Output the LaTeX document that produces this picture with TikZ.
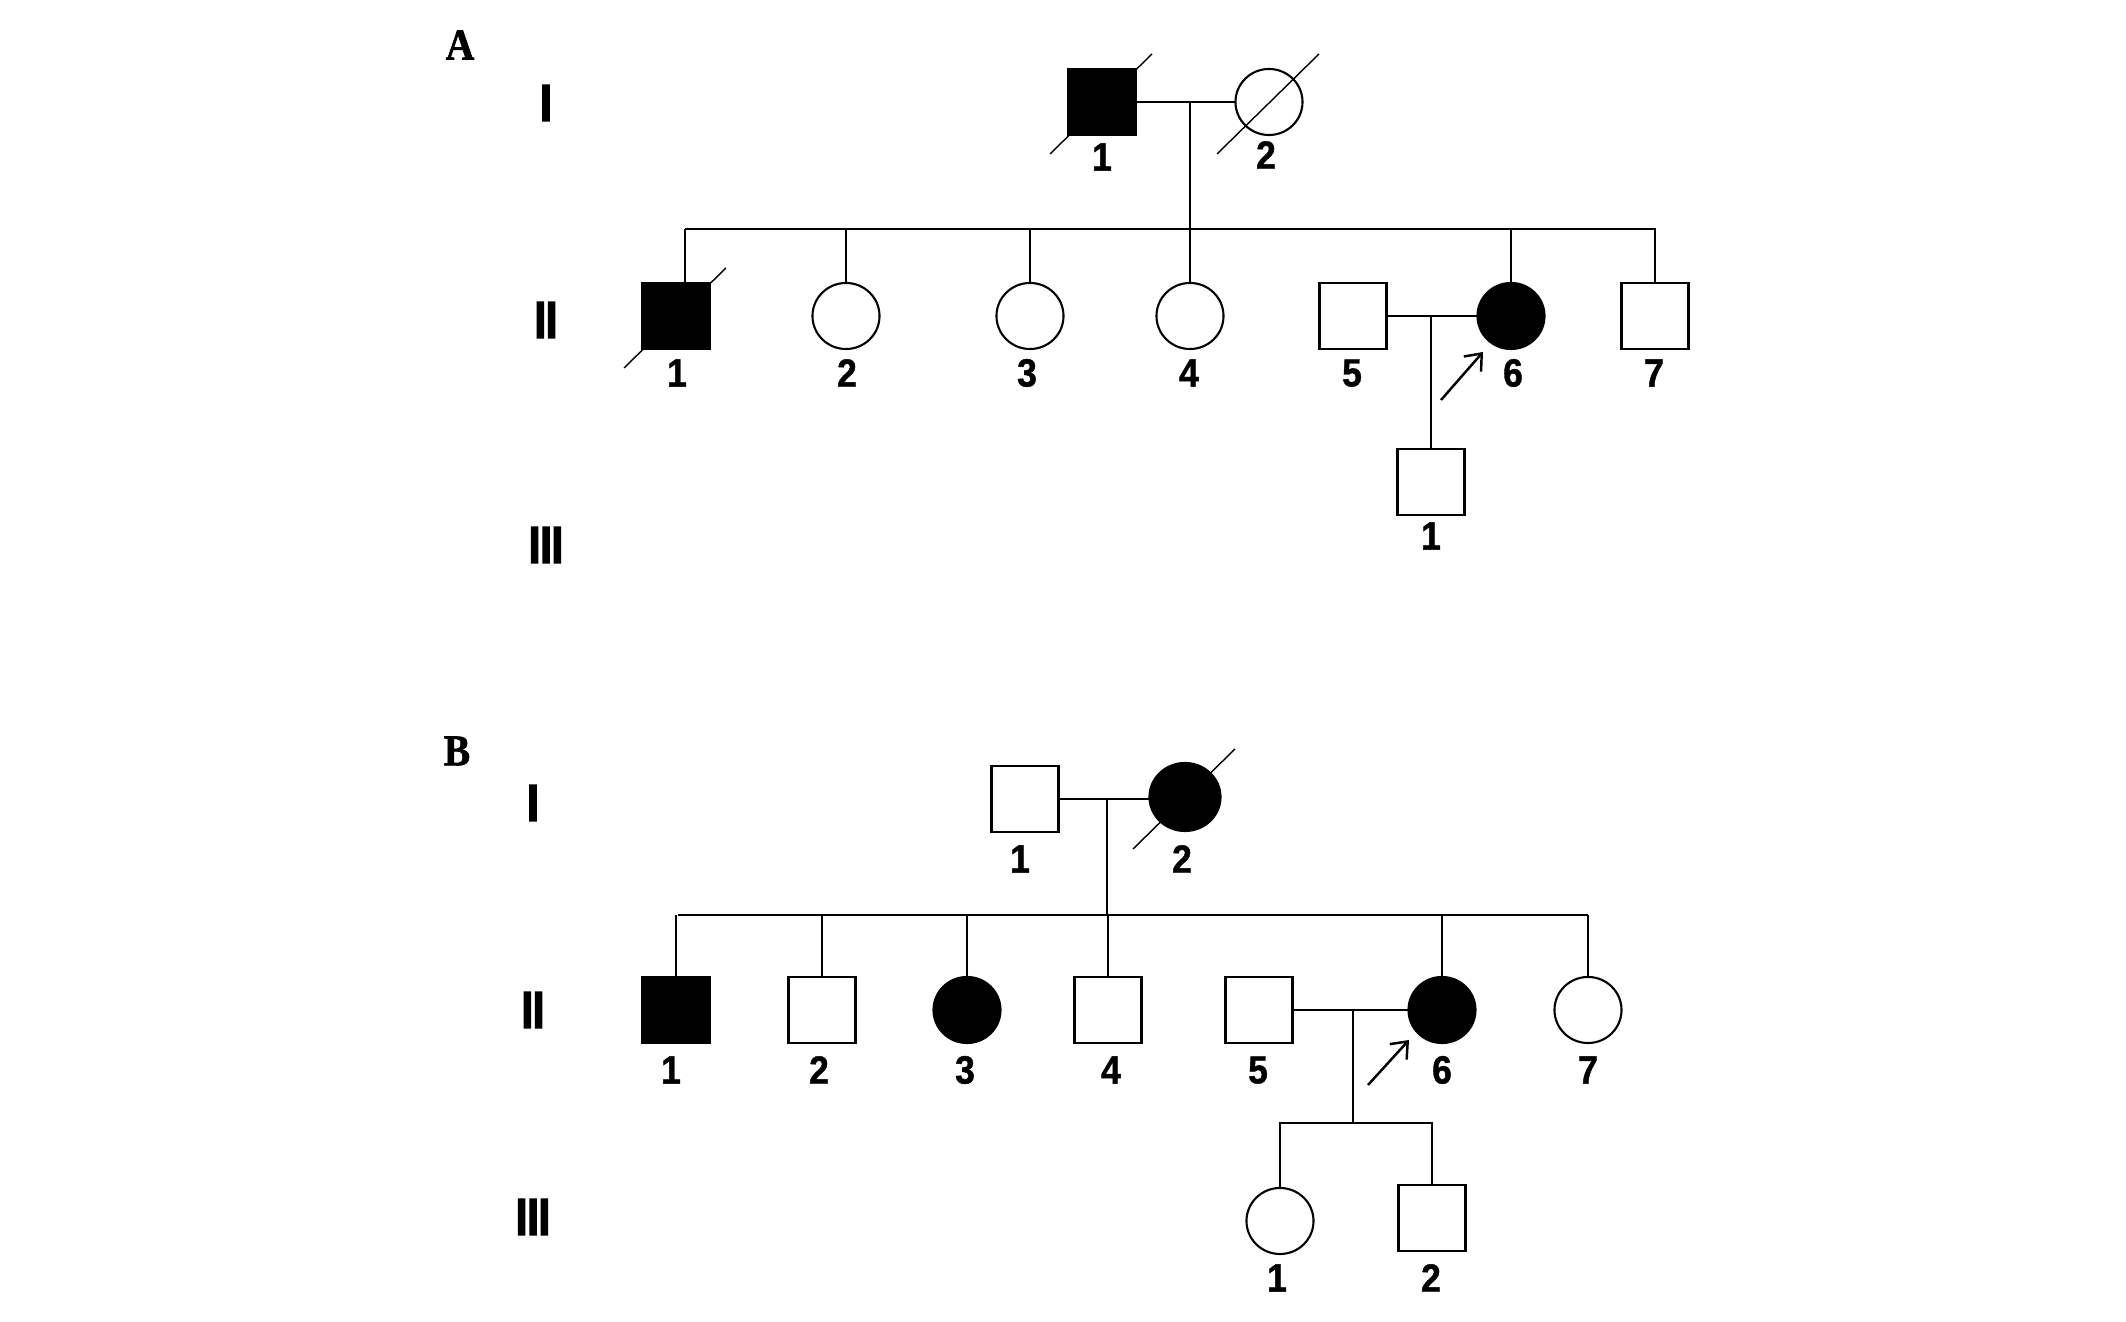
\documentclass[tikz,border=0pt]{standalone}
\usepackage{fontspec}
\setmainfont{Liberation Sans}
\newfontfamily\panelfont[FakeBold=1.5]{Liberation Serif Bold}
\newfontfamily\genfont[FakeBold=4]{Liberation Sans Bold}
\newfontfamily\numfont[FakeBold=1.2]{Liberation Sans Bold}
\usepackage{graphicx}
\usetikzlibrary{arrows.meta,shapes.geometric,calc}
\tikzset{
  ind/.style={draw, line width=0.6pt, inner sep=0pt, outer sep=0pt},
  male/.style={ind, rectangle, minimum width=0.67cm, minimum height=0.66cm},
  female/.style={ind, ellipse, minimum width=0.67cm, minimum height=0.66cm},
  aff/.style={fill=black},
  rel/.style={line width=0.55pt},
  slash/.style={line width=0.4pt},
  num/.style={font=\fontsize{11.2}{12}\selectfont\numfont, inner sep=0pt},
  gen/.style={font=\fontsize{14.5}{16}\selectfont\genfont, inner sep=0pt},
  panel/.style={font=\fontsize{12.5}{14}\selectfont\panelfont, inner sep=0pt},
  proband/.style={line width=0.7pt, -{Straight Barb[length=4pt,width=6.5pt]}},
}
\newcommand{\gennum}[1]{\scalebox{0.8}[1]{#1}}
\newcommand{\narrow}[1]{\scalebox{0.9}[1]{#1}}
\newcommand{\deadslash}[1]{\draw[slash] ([shift={(-52,52)}]#1.center) -- ([shift={(50,-48)}]#1.center);}
\begin{document}
\begin{tikzpicture}[x=0.01cm, y=-0.01cm]
\useasboundingbox (0,0) rectangle (2126,1322);

% ---------------- Panel A ----------------
\node[panel] (pA) at (460,45) {\scalebox{0.9}[1]{A}};
\node[gen] (gA1) at (546,103) {\gennum{I}};
\node[gen] (gA2) at (546,320) {\gennum{II}};
\node[gen] (gA3) at (546,545) {\gennum{III}};

\node[male,aff] (a11) at (1102,102) {};
\node[female] (a12) at (1269,102) {};
\node[num] (la11) at (1102,157) {\narrow{1}};
\node[num] (la12) at (1266,155) {\narrow{2}};
\coordinate (mA1) at (1190,102);
\coordinate (sA1) at (685,229);
\coordinate (sA2) at (1656,229);

\node[male,aff] (a21) at (676,316) {};
\node[female] (a22) at (846,316) {};
\node[female] (a23) at (1030,316) {};
\node[female] (a24) at (1190,316) {};
\node[male] (a25) at (1353,316) {};
\node[female,aff] (a26) at (1511,316) {};
\node[male] (a27) at (1655,316) {};
\node[num] (la21) at (677,373) {\narrow{1}};
\node[num] (la22) at (847,373) {\narrow{2}};
\node[num] (la23) at (1027,373) {\narrow{3}};
\node[num] (la24) at (1189,373) {\narrow{4}};
\node[num] (la25) at (1352,373) {\narrow{5}};
\node[num] (la26) at (1513,373) {\narrow{6}};
\node[num] (la27) at (1654,373) {\narrow{7}};
\coordinate (mA2) at (1431,316);

\node[male] (a31) at (1431,482) {};
\node[num] (la31) at (1431,536) {\narrow{1}};

\draw[rel] (a11.east) -- (a12.west);
\draw[rel] (mA1) -- (mA1 |- sA1);
\draw[rel] (sA1) -- (sA2);
\draw[rel] ([xshift=0.09cm]a21.north) -- ([xshift=0.09cm]a21.north |- sA1);
\draw[rel] (a22.north) -- (a22.north |- sA1);
\draw[rel] (a23.north) -- (a23.north |- sA1);
\draw[rel] (a24.north) -- (a24.north |- sA1);
\draw[rel] (a26.north) -- (a26.north |- sA1);
\draw[rel] (a27.north) -- (a27.north |- sA1);
\draw[rel] (a25.east) -- (a26.west);
\draw[rel] (mA2) -- (mA2 |- a31.north);

\deadslash{a11}
\deadslash{a12}
\deadslash{a21}

\coordinate (arA1) at (1441,400);
\coordinate (arA2) at (1483,352);
\draw[proband] (arA1) -- (arA2);

% ---------------- Panel B ----------------
\node[panel] (pB) at (457,751) {\scalebox{0.9}[1]{B}};
\node[gen] (gB1) at (533,803) {\gennum{I}};
\node[gen] (gB2) at (533,1010) {\gennum{II}};
\node[gen] (gB3) at (533,1217) {\gennum{III}};

\node[male] (b11) at (1025,799) {};
\node[female,aff,minimum width=0.71cm,minimum height=0.68cm] (b12) at (1185,797) {};
\node[num] (lb11) at (1020,859) {\narrow{1}};
\node[num] (lb12) at (1182,859) {\narrow{2}};
\coordinate (mB1) at (1107,799);
\coordinate (sB1) at (678,915);
\coordinate (sB2) at (1588,915);

\node[male,aff] (b21) at (676,1010) {};
\node[male] (b22) at (822,1010) {};
\node[female,aff] (b23) at (967,1010) {};
\node[male] (b24) at (1108,1010) {};
\node[male] (b25) at (1259,1010) {};
\node[female,aff] (b26) at (1442,1010) {};
\node[female] (b27) at (1588,1010) {};
\node[num] (lb21) at (671,1070) {\narrow{1}};
\node[num] (lb22) at (819,1070) {\narrow{2}};
\node[num] (lb23) at (965,1070) {\narrow{3}};
\node[num] (lb24) at (1111,1070) {\narrow{4}};
\node[num] (lb25) at (1258,1070) {\narrow{5}};
\node[num] (lb26) at (1442,1070) {\narrow{6}};
\node[num] (lb27) at (1588,1070) {\narrow{7}};
\coordinate (mB2) at (1353,1010);
\coordinate (sB3) at (1353,1123);

\node[female] (b31) at (1280,1221) {};
\node[male] (b32) at (1432,1218) {};
\node[num] (lb31) at (1277,1278) {\narrow{1}};
\node[num] (lb32) at (1431,1278) {\narrow{2}};

\draw[rel] (b11.east) -- (b12.west |- b11.east);
\draw[rel] (mB1) -- (mB1 |- sB1);
\draw[rel] (sB1) -- (sB2);
\draw[rel] (b21.north) -- (b21.north |- sB1);
\draw[rel] (b22.north) -- (b22.north |- sB1);
\draw[rel] (b23.north) -- (b23.north |- sB1);
\draw[rel] (b24.north) -- (b24.north |- sB1);
\draw[rel] (b26.north) -- (b26.north |- sB1);
\draw[rel] (b27.north) -- (b27.north |- sB1);
\draw[rel] (b25.east) -- (b26.west);
\draw[rel] (mB2) -- (sB3);
\draw[rel] (b31.north) |- (sB3) -| (b32.north);

\deadslash{b12}

\coordinate (arB1) at (1368,1085);
\coordinate (arB2) at (1409,1040);
\draw[proband] (arB1) -- (arB2);
\end{tikzpicture}
\end{document}
